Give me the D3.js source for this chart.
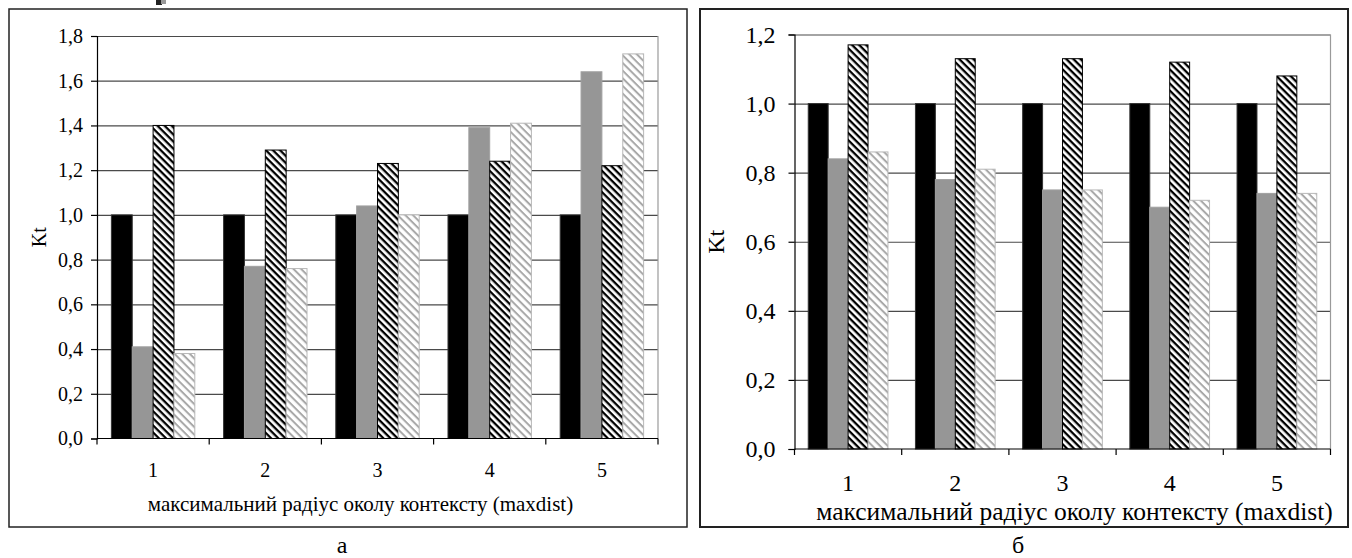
<!DOCTYPE html>
<html>
<head>
<meta charset="utf-8">
<script src="https://cdn.jsdelivr.net/npm/d3@7"></script>
<style>
  body { margin: 0; background: #fff; }
  text { font-family: "Liberation Serif", "DejaVu Serif", serif; fill: #000; }
</style>
</head>
<body>
<svg id="chart" width="1352" height="558"></svg>
<script>
// categories and series
const categories = ["1", "2", "3", "4", "5"];
const seriesKeys = ["black", "gray", "hatch", "light"];

const leftBlack = [1.0, 1.0, 1.0, 1.0, 1.0];
const leftGray  = [0.41, 0.77, 1.04, 1.39, 1.64];
const leftHatch = [1.40, 1.29, 1.23, 1.24, 1.22];
const leftLight = [0.38, 0.76, 1.00, 1.41, 1.72];
const leftTicks = [0, 0.2, 0.4, 0.6, 0.8, 1.0, 1.2, 1.4, 1.6, 1.8];

const rightBlack = [1.0, 1.0, 1.0, 1.0, 1.0];
const rightGray  = [0.84, 0.78, 0.75, 0.70, 0.74];
const rightHatch = [1.17, 1.13, 1.13, 1.12, 1.08];
const rightLight = [0.86, 0.81, 0.75, 0.72, 0.74];
const rightTicks = [0, 0.2, 0.4, 0.6, 0.8, 1.0, 1.2];

const xTitle = "максимальний радіус околу контексту (maxdist)";
const yTitle = "Kt";

const svg = d3.select("#chart");
const defs = svg.append("defs");

function hatch(id, color, size, stroke) {
    const p = defs.append("pattern")
        .attr("id", id)
        .attr("patternUnits", "userSpaceOnUse")
        .attr("width", size)
        .attr("height", size)
        .attr("patternTransform", "rotate(45)");
    p.append("rect").attr("width", size).attr("height", size).attr("fill", "#fff");
    p.append("rect").attr("width", size).attr("height", stroke).attr("fill", color);
}
hatch("hatchDark", "#000", 5.0, 2.3);
hatch("hatchLight", "#a8a8a8", 5.4, 2.0);

const fills = { black: "#000", gray: "#969696", hatch: "url(#hatchDark)", light: "url(#hatchLight)" };
const strokes = { black: "#333", gray: "#a0a0a0", hatch: "#000", light: "#b8b8b8" };

const fmt = v => d3.format(".1f")(v).replace(".", ",");

function drawPanel(opt) {
    // outer frame
    svg.append("rect")
        .attr("x", opt.box[0]).attr("y", opt.box[1])
        .attr("width", opt.box[2]).attr("height", opt.box[3])
        .attr("fill", "none").attr("stroke", "#222").attr("stroke-width", opt.boxStroke);

    const x = d3.scaleBand().domain(categories).range([opt.left, opt.right]);
    const y = d3.scaleLinear().domain([0, d3.max(opt.ticks)]).range([opt.bottom, opt.top]);
    const gap = 1.38;
    const unit = x.bandwidth() / (seriesKeys.length + gap);
    const xs = d3.scaleBand().domain(seriesKeys)
        .range([unit * gap / 2, x.bandwidth() - unit * gap / 2]);

    const g = svg.append("g");

    // gridlines
    g.selectAll(".grid").data(opt.ticks.filter(t => t > 0)).join("line")
        .attr("x1", opt.left).attr("x2", opt.right)
        .attr("y1", d => y(d) + 0.5).attr("y2", d => y(d) + 0.5)
        .attr("stroke", "#4a4a4a").attr("stroke-width", 1.2);

    // right border of plot area
    g.append("line")
        .attr("x1", opt.right).attr("x2", opt.right)
        .attr("y1", y(d3.max(opt.ticks))).attr("y2", opt.bottom)
        .attr("stroke", "#9a9a9a").attr("stroke-width", 1.2);

    // bars
    const rows = categories.map((c, i) => ({
        cat: c,
        values: seriesKeys.map(k => ({ key: k, value: opt.data[k][i] }))
    }));
    g.selectAll(".grp").data(rows).join("g")
        .attr("transform", d => `translate(${x(d.cat)},0)`)
        .selectAll("rect").data(d => d.values).join("rect")
        .attr("x", d => xs(d.key))
        .attr("width", xs.bandwidth())
        .attr("y", d => y(d.value))
        .attr("height", d => y(0) - y(d.value))
        .attr("fill", d => fills[d.key])
        .attr("stroke", d => strokes[d.key])
        .attr("stroke-width", 1);

    // y axis
    const ya = g.append("g")
        .attr("transform", `translate(${opt.left},0)`)
        .call(d3.axisLeft(y).tickValues(opt.ticks).tickFormat(fmt).tickSize(6).tickPadding(opt.tickPad));
    ya.attr("font-family", null);
    ya.select(".domain").attr("stroke", "#000").attr("stroke-width", 1.2);
    ya.selectAll(".tick line").attr("stroke", "#000").attr("stroke-width", 1.2);
    ya.selectAll("text").style("font-size", opt.fontSize + "px");

    // x axis: ticks at the category boundaries, labels centred
    const xa = g.append("g").attr("transform", `translate(0,${opt.bottom})`);
    xa.append("line").attr("x1", opt.left).attr("x2", opt.right)
        .attr("stroke", "#000").attr("stroke-width", 1.2);
    const bounds = categories.map(c => x(c)).concat([x.range()[1]]);
    xa.selectAll(".bt").data(bounds).join("line")
        .attr("x1", d => d).attr("x2", d => d).attr("y1", 0).attr("y2", 6)
        .attr("stroke", "#000").attr("stroke-width", 1.2);
    xa.selectAll(".lbl").data(categories).join("text")
        .attr("x", d => x(d) + x.bandwidth() / 2)
        .attr("y", opt.xLabelDy)
        .attr("text-anchor", "middle")
        .style("font-size", opt.fontSize + "px")
        .text(d => d);

    // axis titles
    svg.append("text")
        .attr("x", (opt.left + opt.right) / 2 + opt.titleShift)
        .attr("y", opt.titleY)
        .attr("text-anchor", "middle")
        .style("font-size", opt.titleSize + "px")
        .text(xTitle);
    svg.append("text")
        .attr("transform", `translate(${opt.ktX},${(opt.top + opt.bottom) / 2}) rotate(-90)`)
        .attr("text-anchor", "middle")
        .style("font-size", opt.fontSize + "px")
        .text(yTitle);

    // panel letter
    svg.append("text")
        .attr("x", opt.box[0] + opt.box[2] / 2 - 6)
        .attr("y", 553)
        .attr("text-anchor", "middle")
        .style("font-size", "24px")
        .text(opt.letter);
}

drawPanel({
    box: [9, 9, 678, 518], boxStroke: 1.5,
    left: 97, right: 658, top: 36, bottom: 438.5,
    ticks: leftTicks,
    data: { black: leftBlack, gray: leftGray, hatch: leftHatch, light: leftLight },
    fontSize: 20, tickPad: 8, xLabelDy: 38, titleSize: 21, titleY: 511, titleShift: -17,
    ktX: 46, letter: "а"
});

drawPanel({
    box: [700, 9, 648, 518], boxStroke: 2,
    left: 794.5, right: 1330.5, top: 34.5, bottom: 449,
    ticks: rightTicks,
    data: { black: rightBlack, gray: rightGray, hatch: rightHatch, light: rightLight },
    fontSize: 24, tickPad: 13, xLabelDy: 42, titleSize: 25.5, titleY: 520, titleShift: 12,
    ktX: 724, letter: "б"
});

// small image fragment at top-left of the page
svg.append("rect").attr("x", 156).attr("y", 0).attr("width", 6).attr("height", 5).attr("fill", "#222");
svg.append("rect").attr("x", 161).attr("y", 0).attr("width", 5).attr("height", 4).attr("fill", "#999");
</script>
</body>
</html>
